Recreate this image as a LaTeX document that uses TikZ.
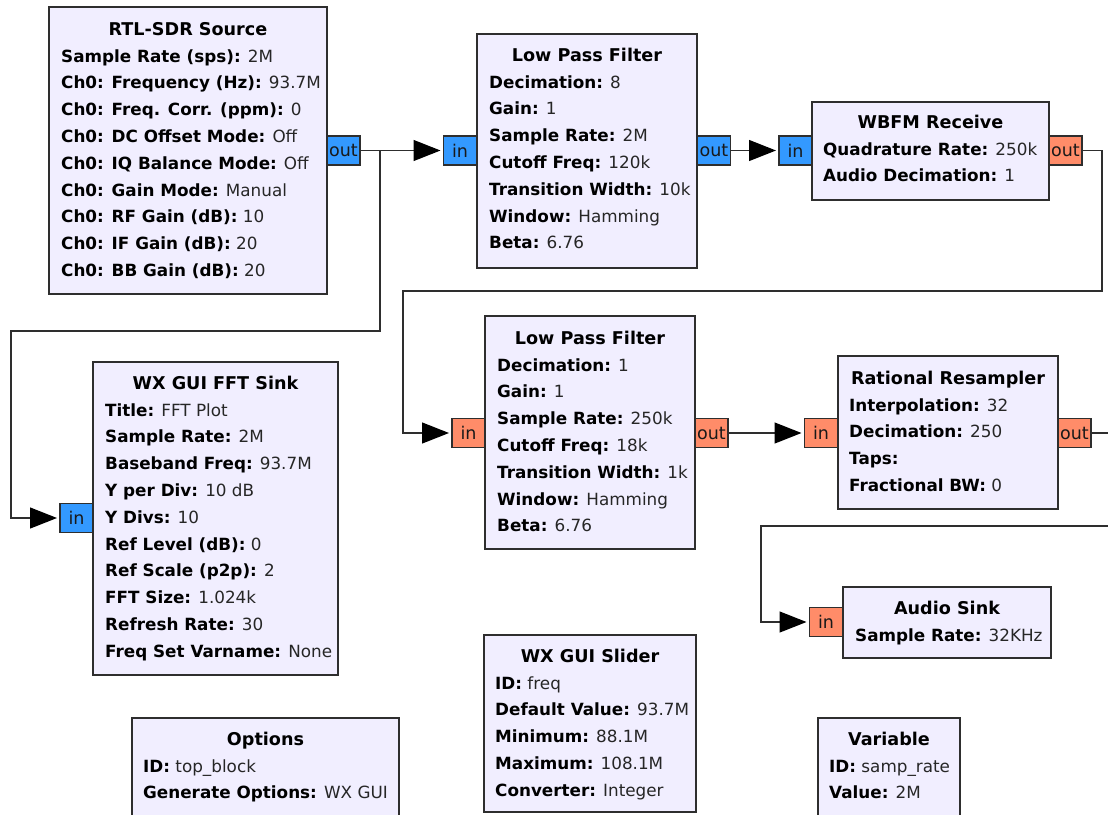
\documentclass[tikz,border=0pt]{standalone}
\usepackage{fontspec}
\setmainfont{DejaVu Sans}
\usetikzlibrary{arrows.meta}

\definecolor{blockfill}{HTML}{F1EEFF}
\definecolor{edgecol}{HTML}{2E2E2E}
\definecolor{cplx}{HTML}{3399FF}
\definecolor{flt}{HTML}{FF8C69}
\definecolor{valcol}{HTML}{262626}

\tikzset{
  blockbox/.style={draw=edgecol, line width=1.3pt, fill=blockfill, inner sep=0pt, outer sep=0pt},
  titletext/.style={inner sep=0pt, font=\fontsize{17.6}{20}\selectfont\bfseries, text=black},
  fieldtext/.style={inner sep=0pt, font=\fontsize{16.8}{20}\selectfont, text=valcol},
  port/.style={draw=edgecol, line width=1.3pt, minimum width=33pt, minimum height=29pt,
    inner sep=0pt, outer sep=0pt, font=\fontsize{17.5}{18}\selectfont, text=black!90},
  cport/.style={port, fill=cplx},
  fport/.style={port, fill=flt},
  wire/.style={draw=edgecol, line width=1.3pt,
    -{Triangle[length=27pt,width=21pt,color=black]}, shorten >=3pt},
}

% block: name, x1, y1, x2, y2, title, title centre y, field left x, key/value list
\newcommand\grcblock[9]{%
  \node[blockbox, anchor=north west, minimum width={#4-#2}, minimum height={#5-#3}] (#1) at (#2,#3) {};
  \node[titletext, anchor=base] (#1-title) at ({(#2+#4)/2},{#7+6.4}) {#6};
  \foreach[count=\i] \k/\v in {#9}
    \node[fieldtext, anchor=base west] (#1-f\i) at (#8,{#7+6.3+26.8*\i}) {\textbf{\color{black}\k:} \v};
}

\begin{document}
\begin{tikzpicture}[x=1pt,y=-1pt]
\useasboundingbox (0,0) rectangle (1108,814);
\clip (0,0) rectangle (1108,814);
\fill[white] (0,0) rectangle (1108,814);

% ---- blocks ----
\grcblock{rtl}{49}{7}{327}{294}{RTL-SDR Source}{29}{61}{%
  Sample Rate (sps)/2M,
  Ch0: Frequency (Hz)/93.7M,
  Ch0: Freq. Corr. (ppm)/0,
  Ch0: DC Offset Mode/Off,
  Ch0: IQ Balance Mode/Off,
  Ch0: Gain Mode/Manual,
  Ch0: RF Gain (dB)/10,
  Ch0: IF Gain (dB)/20,
  Ch0: BB Gain (dB)/20}

\grcblock{lpfa}{477}{34}{697}{268}{Low Pass Filter}{55}{489}{%
  Decimation/8,
  Gain/1,
  Sample Rate/2M,
  Cutoff Freq/120k,
  Transition Width/10k,
  Window/Hamming,
  Beta/6.76}

\grcblock{wbfm}{812}{102}{1049}{200}{WBFM Receive}{122}{823}{%
  Quadrature Rate/250k,
  Audio Decimation/1}

\grcblock{lpfb}{485}{316}{695}{549}{Low Pass Filter}{338}{497}{%
  Decimation/1,
  Gain/1,
  Sample Rate/250k,
  Cutoff Freq/18k,
  Transition Width/1k,
  Window/Hamming,
  Beta/6.76}

\grcblock{rr}{838}{356}{1058}{509}{Rational Resampler}{378}{849}{%
  Interpolation/32,
  Decimation/250,
  Taps/{},
  Fractional BW/0}

\grcblock{asink}{843}{587}{1051}{658}{Audio Sink}{608}{855}{%
  Sample Rate/32KHz}

\grcblock{fft}{93}{362}{338}{675}{WX GUI FFT Sink}{383}{105}{%
  Title/FFT Plot,
  Sample Rate/2M,
  Baseband Freq/93.7M,
  Y per Div/10 dB,
  Y Divs/10,
  Ref Level (dB)/0,
  Ref Scale (p2p)/2,
  FFT Size/1.024k,
  Refresh Rate/30,
  Freq Set Varname/None}

\grcblock{opts}{132}{718}{399}{830}{Options}{739}{143}{%
  ID/top\_block,
  Generate Options/WX GUI}

\grcblock{slider}{484}{635}{696}{812}{WX GUI Slider}{656}{495}{%
  ID/freq,
  Default Value/93.7M,
  Minimum/88.1M,
  Maximum/108.1M,
  Converter/Integer}

\grcblock{var}{818}{718}{960}{830}{Variable}{739}{829}{%
  ID/samp\_rate,
  Value/2M}

% ---- ports ----
\node[cport] (rtl-out)   at (343.5,150.5) {out};
\node[cport] (lpfa-in)   at (460,150.5)   {in};
\node[cport] (lpfa-out)  at (714,150.5)   {out};
\node[cport] (wbfm-in)   at (795.5,150.5) {in};
\node[fport] (wbfm-out)  at (1065.5,150.5) {out};
\node[fport] (lpfb-in)   at (468.5,433)   {in};
\node[fport] (lpfb-out)  at (711.5,433)   {out};
\node[fport] (rr-in)     at (821,433)     {in};
\node[fport] (rr-out)    at (1074.5,433)  {out};
\node[fport] (asink-in)  at (826,622)     {in};
\node[cport] (fft-in)    at (76.5,518)    {in};

% ---- bend points of the routed connections ----
\coordinate (fftbend)  at (11,331);
\coordinate (lpfbbend) at (403,291);
\coordinate (sinkbend) at (761,526);

% ---- connections ----
\draw[wire] (rtl-out.east) -- (lpfa-in.west);
\draw[wire] (rtl-out.east) -- ++(20,0) |- (fftbend) |- (fft-in.west);
\draw[wire] (lpfa-out.east) -- (wbfm-in.west);
\draw[wire] (wbfm-out.east) -- ++(20,0) |- (lpfbbend) |- (lpfb-in.west);
\draw[wire] (lpfb-out.east) -- (rr-in.west);
\draw[wire] (rr-out.east) -- ++(40,0) |- (sinkbend) |- (asink-in.west);
\end{tikzpicture}
\end{document}
